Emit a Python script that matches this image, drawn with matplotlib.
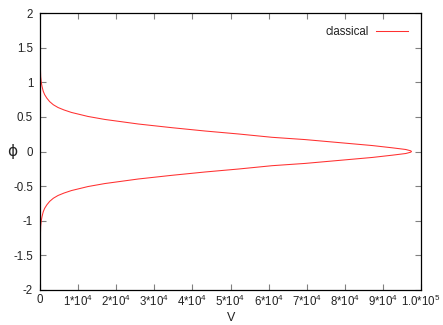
import matplotlib
matplotlib.use("Agg")
import matplotlib.pyplot as plt

plt.rcParams['font.family'] = ['Liberation Sans', 'DejaVu Sans']
plt.rcParams['mathtext.default'] = 'regular'

# upper branch (V, phi); lower branch is its mirror
V_upper = [0, 60, 110, 175, 330, 530, 850, 1230, 1800, 2540, 3500, 4740, 6300, 8250,
           12600, 17000, 25800, 34600, 43300, 52100, 60900, 69600, 78400, 87200,
           92500, 96000, 97300, 97500]
phi_upper = [1.57, 1.34, 1.2, 1.08, 1.0, 0.94, 0.87, 0.82, 0.77, 0.72, 0.675, 0.635, 0.6, 0.564,
             0.506, 0.463, 0.397, 0.344, 0.296, 0.253, 0.205, 0.172, 0.129, 0.086,
             0.053, 0.029, 0.01, 0.0]

V_all = V_upper + V_upper[-2::-1]
phi_all = phi_upper + [-p for p in phi_upper[-2::-1]]

xticks = [0, 1e4, 2e4, 3e4, 4e4, 5e4, 6e4, 7e4, 8e4, 9e4, 1e5]
xticklabels = ['0', '1*10$^4$', '2*10$^4$', '3*10$^4$', '4*10$^4$', '5*10$^4$',
               '6*10$^4$', '7*10$^4$', '8*10$^4$', '9*10$^4$', '1.0*10$^5$']
yticks = [-2, -1.5, -1, -0.5, 0, 0.5, 1, 1.5, 2]
yticklabels = ['-2', '-1.5', '-1', '-0.5', '0', '0.5', '1', '1.5', '2']

W, H = 443, 325
fig = plt.figure(figsize=(W / 100, H / 100), dpi=100)
ax = fig.add_axes([40 / W, 1 - 290 / H, 381 / W, 277 / H])

ax.plot(V_all, phi_all, color='#ff3030', lw=0.75, label='classical')
ax.set_xlim(0, 1e5)
ax.set_ylim(-2, 2)
ax.set_xticks(xticks)
ax.set_xticklabels(xticklabels)
ax.set_yticks(yticks)
ax.set_yticklabels(yticklabels)
ax.tick_params(direction='in', length=4, width=0.8, color='#808080', labelsize=8.3,
               labelcolor='#222222', top=True, right=True, pad=5)
ax.tick_params(axis='x', pad=3)
for s in ax.spines.values():
    s.set_linewidth(0.9)

fig.text(231 / W, 1 - 318 / H, 'V', fontsize=9, ha='center', va='center',
         color='#222222')
fig.text(12 / W, 1 - 152 / H, 'ϕ', fontsize=11, ha='center', va='center',
         family=['DejaVu Sans'], color='#222222')

ax.legend(loc='upper right', frameon=False, fontsize=8.3, markerfirst=False,
          handlelength=2.8, handletextpad=0.6, borderaxespad=0.4,
          bbox_to_anchor=(0.99, 0.985), labelcolor='#222222')

fig.savefig('out.png', dpi=100)
